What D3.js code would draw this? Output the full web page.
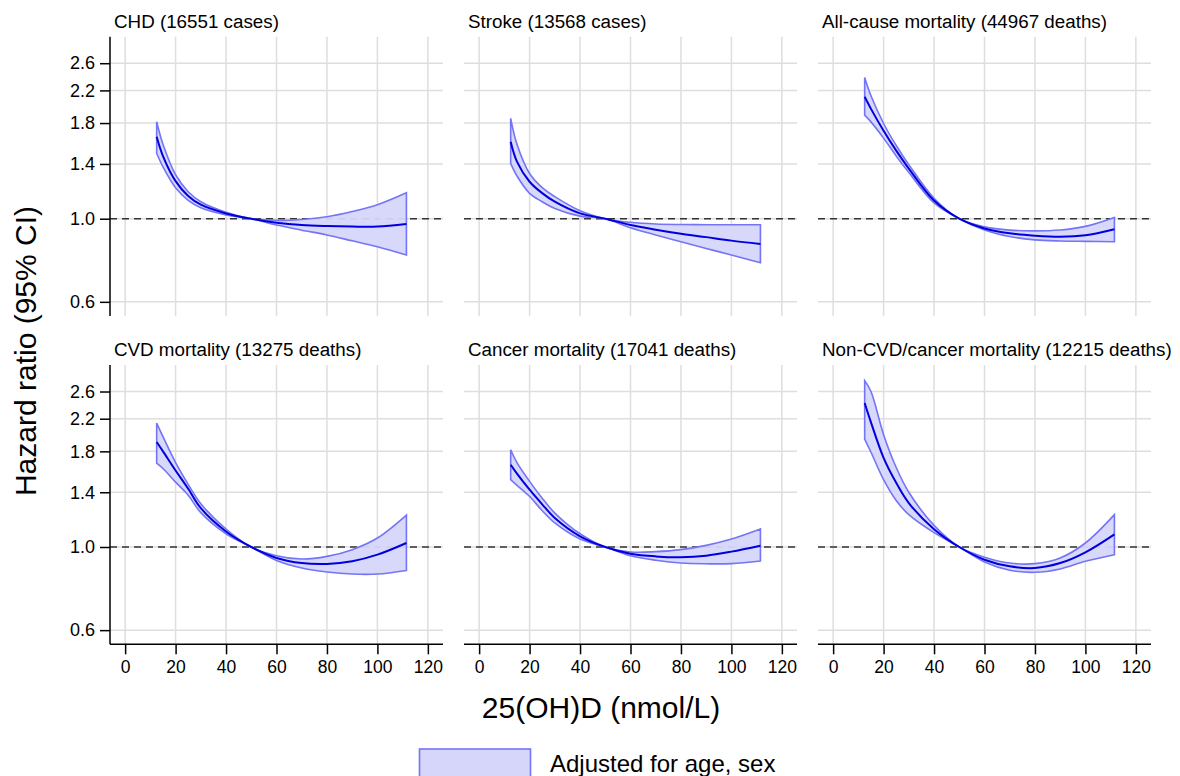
<!DOCTYPE html>
<html>
<head>
<meta charset="utf-8">
<script src="https://cdn.jsdelivr.net/npm/d3@7/dist/d3.min.js"></script>
<style>
  html, body { margin: 0; padding: 0; background: #ffffff; }
  svg { display: block; }
  text { font-family: "Liberation Sans", Arial, Helvetica, sans-serif; fill: #000; }
</style>
</head>
<body>
<svg id="chart" width="1180" height="776"></svg>
<script>
// ---------------- data ----------------
const panelTitles = [
  "CHD (16551 cases)",
  "Stroke (13568 cases)",
  "All-cause mortality (44967 deaths)",
  "CVD mortality (13275 deaths)",
  "Cancer mortality (17041 deaths)",
  "Non-CVD/cancer mortality (12215 deaths)"
];
const xTicks = [0, 20, 40, 60, 80, 100, 120];
const yTicks = [0.6, 1.0, 1.4, 1.8, 2.2, 2.6];
const yTickLabels = ["0.6", "1.0", "1.4", "1.8", "2.2", "2.6"];
const xTitle = "25(OH)D (nmol/L)";
const yTitle = "Hazard ratio (95% CI)";
const legendLabel = "Adjusted for age, sex";

// 25(OH)D grid (nmol/L)
const vitD = [12.5, 15, 20, 25, 30, 40, 50, 60, 70, 80, 90, 100, 111.5];

// Hazard ratios (estimate, lower, upper) per outcome
const chdHR    = [1.655, 1.47, 1.26, 1.15, 1.09, 1.033, 1.0, 0.976, 0.962, 0.956, 0.953, 0.953, 0.968];
const chdLo    = [1.495, 1.375, 1.21, 1.12, 1.07, 1.024, 1.0, 0.962, 0.932, 0.905, 0.873, 0.842, 0.80];
const chdHi    = [1.815, 1.58, 1.31, 1.18, 1.11, 1.04, 1.0, 0.99, 0.995, 1.012, 1.045, 1.09, 1.173];

const strokeHR = [1.605, 1.42, 1.255, 1.17, 1.11, 1.033, 1.0, 0.962, 0.935, 0.912, 0.893, 0.874, 0.856];
const strokeLo = [1.405, 1.30, 1.169, 1.11, 1.065, 1.016, 1.0, 0.946, 0.905, 0.868, 0.833, 0.80, 0.763];
const strokeHi = [1.853, 1.58, 1.32, 1.21, 1.145, 1.05, 1.0, 0.978, 0.968, 0.965, 0.964, 0.964, 0.964];

const allHR    = [2.115, 1.964, 1.716, 1.519, 1.361, 1.118, 1.0, 0.942, 0.914, 0.901, 0.895, 0.903, 0.937];
const allLo    = [1.89, 1.813, 1.641, 1.471, 1.329, 1.102, 1.0, 0.933, 0.896, 0.878, 0.872, 0.870, 0.868];
const allHi    = [2.383, 2.128, 1.795, 1.568, 1.394, 1.134, 1.0, 0.951, 0.932, 0.928, 0.933, 0.954, 1.008];

const cvdHR    = [1.906, 1.80, 1.60, 1.43, 1.27, 1.10, 1.0, 0.935, 0.906, 0.901, 0.916, 0.954, 1.025];
const cvdLo    = [1.675, 1.62, 1.49, 1.375, 1.235, 1.085, 1.0, 0.921, 0.879, 0.858, 0.847, 0.847, 0.866];
const cvdHi    = [2.141, 1.97, 1.68, 1.47, 1.305, 1.117, 1.0, 0.948, 0.929, 0.944, 0.984, 1.057, 1.217];

const cancerHR = [1.658, 1.57, 1.422, 1.30, 1.195, 1.068, 1.0, 0.96, 0.944, 0.939, 0.948, 0.972, 1.008];
const cancerLo = [1.513, 1.46, 1.365, 1.25, 1.159, 1.05, 1.0, 0.948, 0.922, 0.906, 0.902, 0.903, 0.918];
const cancerHi = [1.818, 1.68, 1.497, 1.35, 1.232, 1.085, 1.0, 0.97, 0.972, 0.984, 1.01, 1.05, 1.117];

const otherHR  = [2.422, 2.15, 1.73, 1.484, 1.31, 1.116, 1.0, 0.925, 0.888, 0.879, 0.906, 0.968, 1.081];
const otherLo  = [1.94, 1.79, 1.512, 1.33, 1.22, 1.092, 1.0, 0.912, 0.867, 0.856, 0.874, 0.916, 0.954];
const otherHi  = [2.78, 2.60, 1.994, 1.63, 1.40, 1.142, 1.0, 0.939, 0.906, 0.903, 0.935, 1.025, 1.22];

const estimates = [chdHR, strokeHR, allHR, cvdHR, cancerHR, otherHR];
const lowers    = [chdLo, strokeLo, allLo, cvdLo, cancerLo, otherLo];
const uppers    = [chdHi, strokeHi, allHi, cvdHi, cancerHi, otherHi];

// ---------------- layout ----------------
const svg = d3.select("#chart");
const FONT = '"Liberation Sans", Arial, Helvetica, sans-serif';
const panelW = 333, panelH = 279.3;
const colLeft = [110, 464, 818];
const rowTop = [36.7, 365];

const x = d3.scaleLinear().domain([-6, 126]).range([0, panelW]);
const y = d3.scaleLog().domain([0.55, 3.06]).range([panelH, 0]);

const gridColor = "#dedede";
const bandFill = "#d6d6fb";
const bandStroke = "#7474f6";
const lineColor = "#0000dc";

panelTitles.forEach((title, i) => {
  const row = Math.floor(i / 3), col = i % 3;
  const g = svg.append("g").attr("transform", `translate(${colLeft[col]},${rowTop[row]})`);

  // grid
  g.selectAll("line.vg").data(xTicks).enter().append("line")
    .attr("x1", d => x(d)).attr("x2", d => x(d))
    .attr("y1", 0).attr("y2", panelH)
    .attr("stroke", gridColor).attr("stroke-width", 1.5);
  g.selectAll("line.hg").data(yTicks).enter().append("line")
    .attr("x1", 0).attr("x2", panelW)
    .attr("y1", d => y(d)).attr("y2", d => y(d))
    .attr("stroke", gridColor).attr("stroke-width", 1.5);

  // reference line HR = 1
  g.append("line")
    .attr("x1", 0).attr("x2", panelW)
    .attr("y1", y(1)).attr("y2", y(1))
    .attr("stroke", "#333").attr("stroke-width", 1.6)
    .attr("stroke-dasharray", "7,5");

  // CI band
  const lo = lowers[i], hi = uppers[i], est = estimates[i];
  const area = d3.area()
    .x((d, k) => x(vitD[k]))
    .y0((d, k) => y(lo[k]))
    .y1((d, k) => y(hi[k]))
    .curve(d3.curveCatmullRom.alpha(0.5));
  g.append("path").datum(vitD)
    .attr("d", area)
    .attr("fill", bandFill).attr("fill-opacity", 0.95)
    .attr("stroke", bandStroke).attr("stroke-width", 1.6)
    .attr("stroke-linejoin", "miter");

  // estimate line
  const line = d3.line()
    .x((d, k) => x(vitD[k]))
    .y((d, k) => y(est[k]))
    .curve(d3.curveCatmullRom.alpha(0.5));
  g.append("path").datum(vitD)
    .attr("d", line)
    .attr("fill", "none").attr("stroke", lineColor).attr("stroke-width", 2);

  // title
  g.append("text")
    .attr("x", 4).attr("y", -8.7)
    .attr("font-size", 18.8).attr("font-family", FONT)
    .text(title);

  // y axis on first column
  if (col === 0) {
    const ya = d3.axisLeft(y).tickValues(yTicks)
      .tickFormat((d, k) => yTickLabels[k]).tickSize(10).tickPadding(5);
    const yg = g.append("g").call(ya);
    yg.select(".domain").attr("d", `M0,0V${panelH}`).attr("stroke", "#000").attr("stroke-width", 1.5);
    yg.selectAll(".tick line").attr("stroke", "#000").attr("stroke-width", 1.5);
    yg.selectAll(".tick text").attr("font-size", 18).attr("font-family", FONT).attr("fill", "#000");
  }
  // x axis on bottom row
  if (row === 1) {
    const xa = d3.axisBottom(x).tickValues(xTicks).tickSize(10).tickPadding(6);
    const xg = g.append("g").attr("transform", `translate(0,${panelH})`).call(xa);
    xg.select(".domain").attr("d", `M0,0H${panelW}`).attr("stroke", "#000").attr("stroke-width", 1.5);
    xg.selectAll(".tick line").attr("stroke", "#000").attr("stroke-width", 1.5);
    xg.selectAll(".tick text").attr("font-size", 17.5).attr("font-family", FONT).attr("fill", "#000");
  }
});

// axis titles
svg.append("text")
  .attr("x", 601).attr("y", 718)
  .attr("text-anchor", "middle")
  .attr("font-size", 30).attr("font-family", FONT)
  .text(xTitle);

svg.append("text")
  .attr("transform", "translate(36,351) rotate(-90)")
  .attr("text-anchor", "middle")
  .attr("font-size", 30).attr("font-family", FONT)
  .text(yTitle);

// legend
svg.append("rect")
  .attr("x", 419.5).attr("y", 749).attr("width", 111).attr("height", 32)
  .attr("fill", bandFill).attr("stroke", bandStroke).attr("stroke-width", 1.6);
svg.append("text")
  .attr("x", 550).attr("y", 772)
  .attr("font-size", 24).attr("font-family", FONT)
  .text(legendLabel);
</script>
</body>
</html>
